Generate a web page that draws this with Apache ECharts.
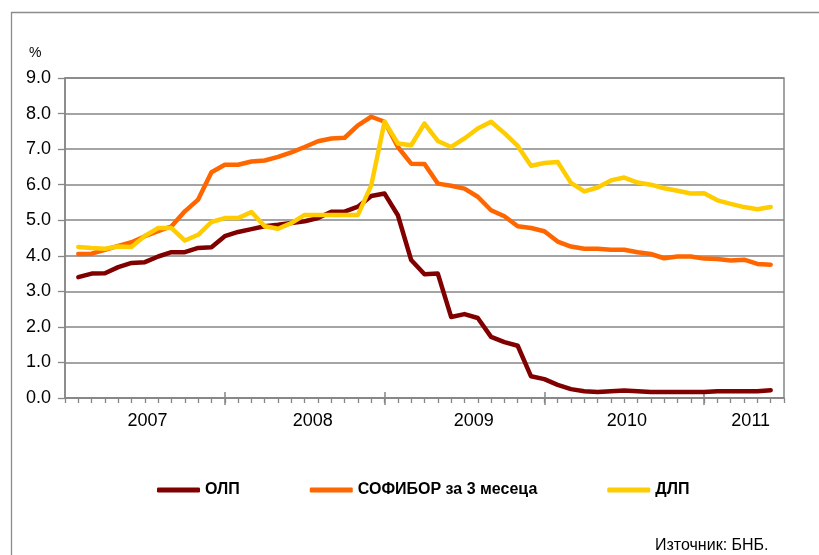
<!DOCTYPE html>
<html>
<head>
<meta charset="utf-8">
<script src="https://cdn.jsdelivr.net/npm/echarts@6/dist/echarts.min.js"></script>
<style>
html,body{margin:0;padding:0;background:#fff;}
#chart{width:819px;height:555px;}
</style>
</head>
<body>
<div id="chart"></div>
<script>
// Monthly observations, Jan 2007 – May 2011
const months = [
 '2007-01','2007-02','2007-03','2007-04','2007-05','2007-06','2007-07','2007-08','2007-09','2007-10','2007-11','2007-12',
 '2008-01','2008-02','2008-03','2008-04','2008-05','2008-06','2008-07','2008-08','2008-09','2008-10','2008-11','2008-12',
 '2009-01','2009-02','2009-03','2009-04','2009-05','2009-06','2009-07','2009-08','2009-09','2009-10','2009-11','2009-12',
 '2010-01','2010-02','2010-03','2010-04','2010-05','2010-06','2010-07','2010-08','2010-09','2010-10','2010-11','2010-12',
 '2011-01','2011-02','2011-03','2011-04','2011-05'
];
const seriesNames = ['ОЛП', 'СОФИБОР за 3 месеца', 'ДЛП'];
const olp = [3.40,3.50,3.51,3.68,3.80,3.82,3.98,4.10,4.10,4.22,
             4.24,4.55,4.67,4.75,4.83,4.87,4.92,4.97,5.06,5.24,
             5.24,5.38,5.68,5.75,5.14,3.88,3.48,3.50,2.28,2.36,
             2.25,1.72,1.57,1.47,0.61,0.53,0.37,0.25,0.19,0.17,
             0.19,0.21,0.19,0.17,0.17,0.17,0.17,0.17,0.19,0.19,
             0.19,0.19,0.22];
const sofibor = [4.05,4.06,4.17,4.28,4.38,4.55,4.69,4.83,5.25,5.58,
                 6.35,6.56,6.56,6.65,6.68,6.78,6.91,7.06,7.22,7.30,
                 7.32,7.67,7.91,7.77,7.06,6.59,6.58,6.03,5.97,5.89,
                 5.66,5.28,5.11,4.83,4.78,4.69,4.40,4.26,4.20,4.20,
                 4.17,4.17,4.10,4.05,3.93,3.98,3.98,3.92,3.91,3.87,
                 3.89,3.77,3.75];
const dlp = [4.25,4.22,4.20,4.26,4.25,4.56,4.78,4.78,4.43,4.59,
             4.95,5.06,5.06,5.23,4.83,4.76,4.92,5.15,5.15,5.15,
             5.15,5.15,5.98,7.77,7.16,7.11,7.72,7.23,7.06,7.30,
             7.58,7.77,7.45,7.09,6.53,6.61,6.64,6.05,5.81,5.92,
             6.12,6.20,6.06,6.00,5.90,5.83,5.75,5.76,5.56,5.46,
             5.37,5.31,5.37];
const yearLabels = ['2007','2008','2009','2010','2011'];
const colors = ['#800000', '#FF6600', '#FFCC00'];

// Axis runs in month steps from Dec 2006 (0) to Jun 2011 (months.length + 1)
const axisMax = months.length + 1;
const yearLabelPos = [6.2, 18.6, 30.7, 42.2, 51.5];
const monthTicks = Array.from({length: axisMax + 1}, (_, i) => i);
const yearTicks = [12, 24, 36, 48];

const toPoints = arr => arr.map((v, i) => [i + 1, v]);
const FONT = 'Liberation Sans, Arial, sans-serif';
const GRAY = '#868686';

const chart = echarts.init(document.getElementById('chart'), null, {renderer: 'canvas'});

const hiddenAxisBase = {
  type: 'value', min: 0, max: axisMax, gridIndex: 0, position: 'bottom',
  axisLine: {show: false}, axisLabel: {show: false}, splitLine: {show: false}
};

chart.setOption({
  animation: false,
  backgroundColor: '#fff',
  textStyle: {fontFamily: FONT},
  grid: {left: 65, right: 35, top: 78, bottom: 157, show: true, borderColor: GRAY, borderWidth: 1.5, backgroundColor: 'transparent'},
  xAxis: [
    {
      type: 'value', min: 0, max: axisMax,
      axisLine: {show: true, lineStyle: {color: GRAY, width: 1.5}},
      axisTick: {show: true, customValues: monthTicks, length: 5, lineStyle: {color: GRAY, width: 1.3}},
      axisLabel: {
        show: true, customValues: yearLabelPos, margin: 14,
        color: '#000', fontSize: 18, fontFamily: FONT,
        formatter: v => yearLabels[yearLabelPos.indexOf(v)] || ''
      },
      splitLine: {show: false}
    },
    Object.assign({}, hiddenAxisBase, {
      axisTick: {show: true, customValues: yearTicks, length: 7, lineStyle: {color: GRAY, width: 1.5}}
    }),
    Object.assign({}, hiddenAxisBase, {
      axisTick: {show: true, inside: true, customValues: yearTicks, length: 6, lineStyle: {color: GRAY, width: 1.5}}
    })
  ],
  yAxis: {
    type: 'value', min: 0, max: 9, interval: 1,
    axisLine: {show: true, lineStyle: {color: GRAY, width: 1.5}},
    axisTick: {show: true, length: 7, lineStyle: {color: GRAY, width: 1.3}},
    axisLabel: {color: '#000', fontSize: 18, fontFamily: FONT, margin: 14, formatter: v => v.toFixed(1)},
    splitLine: {show: true, lineStyle: {color: GRAY, width: 1.5}}
  },
  legend: {
    left: 157, top: 482, padding: 0,
    icon: 'roundRect', itemWidth: 43, itemHeight: 5, itemGap: 70,
    textStyle: {color: '#000', fontSize: 16, fontWeight: 'bold', fontFamily: FONT},
    data: seriesNames
  },
  series: [olp, sofibor, dlp].map((arr, k) => ({
    name: seriesNames[k],
    type: 'line',
    xAxisIndex: 0,
    data: toPoints(arr),
    showSymbol: false,
    symbol: 'none',
    color: colors[k],
    lineStyle: {color: colors[k], width: 4.5, cap: 'round', join: 'round'},
    z: 3 + k
  })),
  graphic: [
    {type: 'rect', silent: true, z: -1, shape: {x: 11.5, y: 12.5, width: 1000, height: 800},
     style: {fill: 'none', stroke: '#8c8c8c', lineWidth: 1.3}},
    {type: 'text', left: 29, top: 46, style: {text: '%', fontSize: 14, fontFamily: FONT, fill: '#000'}},
    {type: 'text', left: 655, top: 538, style: {text: 'Източник: БНБ.', fontSize: 16, fontFamily: FONT, fill: '#000'}}
  ]
});
</script>
</body>
</html>
